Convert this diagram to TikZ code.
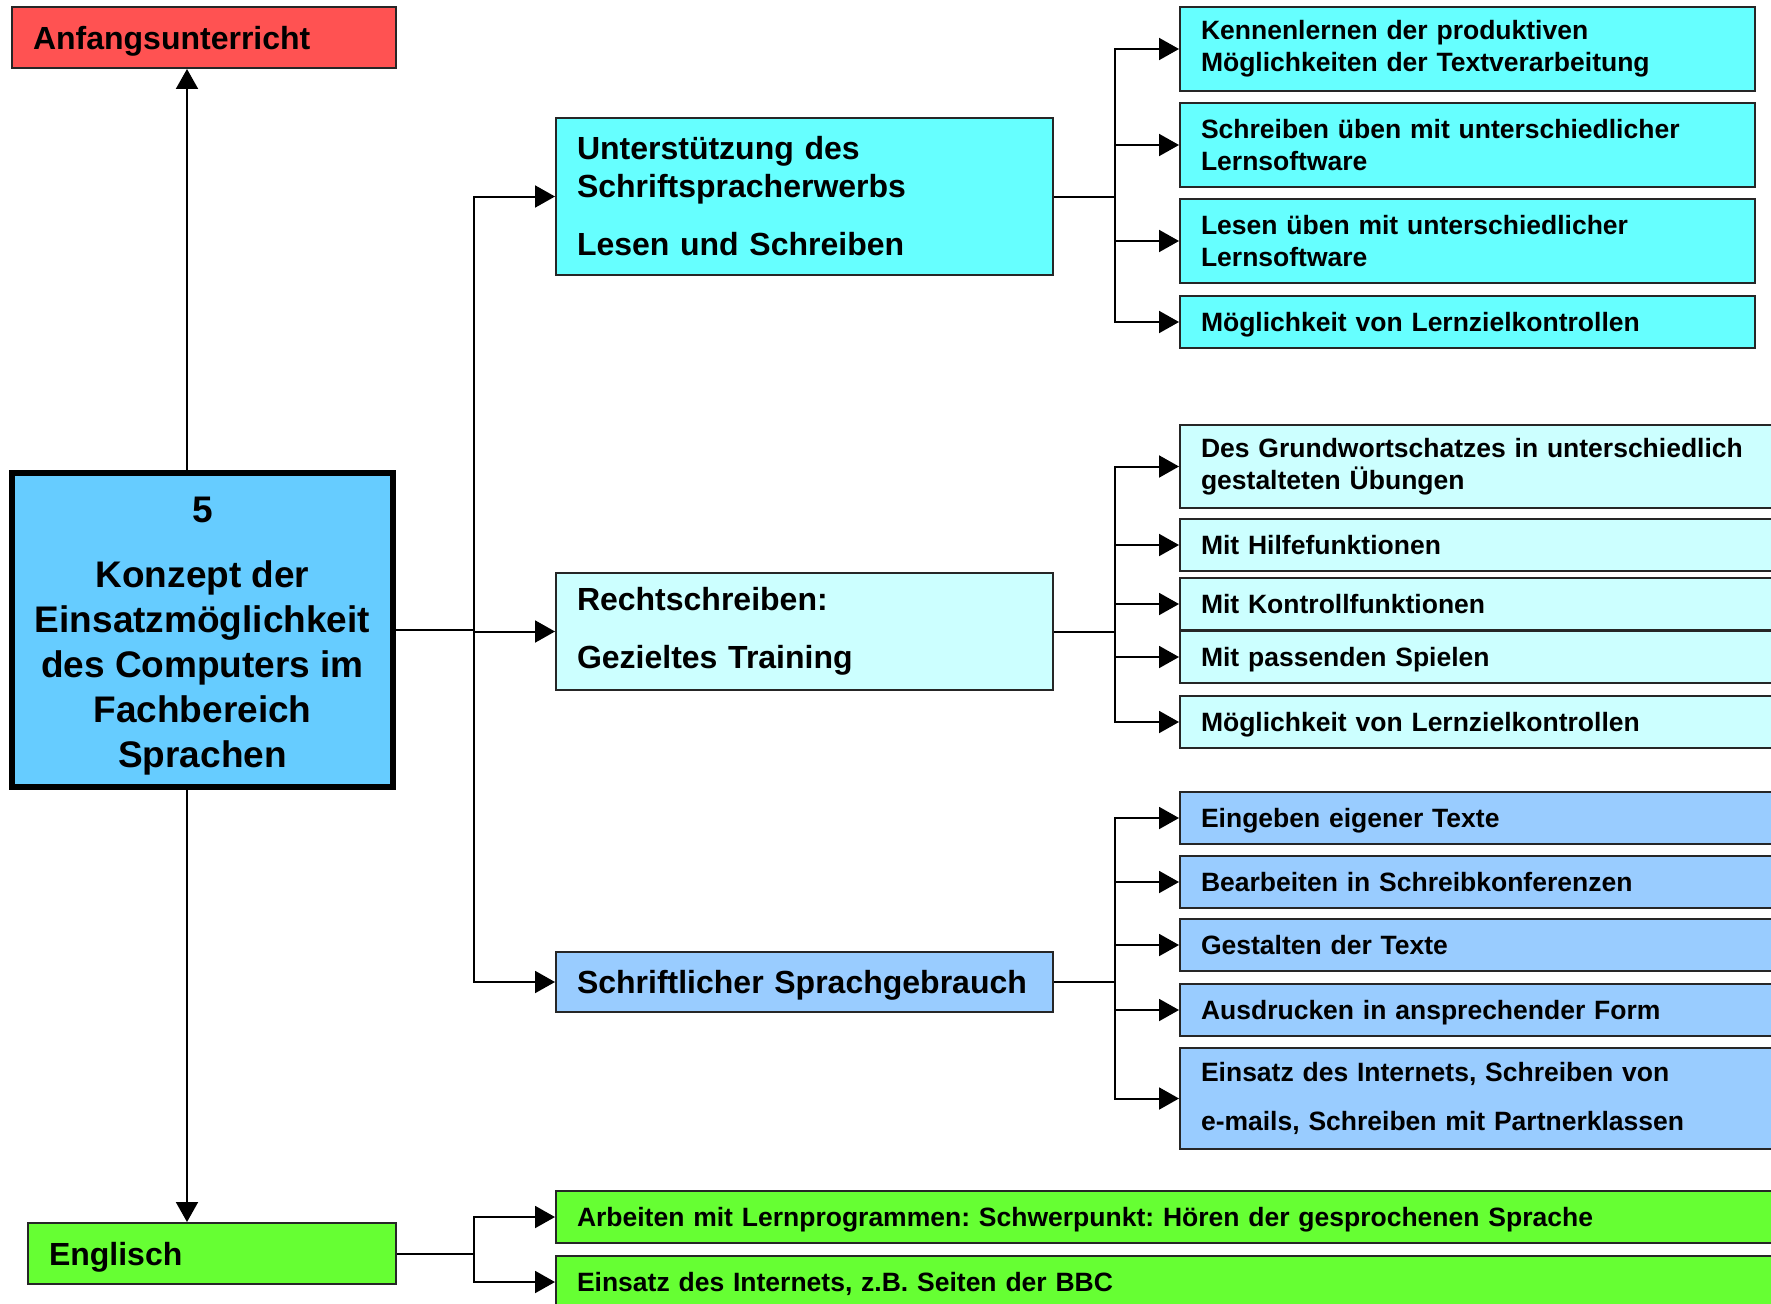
\documentclass[tikz,border=0pt]{standalone}
\usepackage{fontspec}
\setmainfont{Liberation Sans}
\usetikzlibrary{arrows.meta}
\frenchspacing

\definecolor{anfrot}{RGB}{255,82,82}
\definecolor{zentral}{RGB}{102,204,255}
\definecolor{tuerkis}{RGB}{102,255,255}
\definecolor{hellt}{RGB}{204,255,255}
\definecolor{hellblau}{RGB}{153,204,255}
\definecolor{gruen}{RGB}{102,255,51}

\newcommand{\fklein}{\fontsize{26.5}{31.6}\selectfont\bfseries}
\newcommand{\fgross}{\fontsize{32}{38}\selectfont\bfseries}
\newcommand{\fzentral}{\fontsize{37}{45}\selectfont\bfseries}

\begin{document}
\begin{tikzpicture}[x=1pt, y=-1pt]
		\tikzstyle{box}=[draw=black!85, line width=2pt, rectangle, anchor=north west, inner xsep=21pt, inner ysep=0pt, align=left]
		\tikzstyle{einz}=[text depth=0pt]
		\tikzstyle{pfeil}=[line width=2pt, -{Triangle[length=20pt,width=22pt]}]
		\useasboundingbox (0,0) rectangle (1771,1303);

		% linke Spalte
		\node[box, einz, fill=anfrot, minimum width=384pt, text width=342pt, minimum height=61pt, font=\fgross] (anf) at (11,6) {Anfangsunterricht};
		\node[draw=black, line width=6pt, fill=zentral, minimum width=381pt, minimum height=314pt, inner sep=0pt, align=center, font=\fzentral] (zentr) at (202.5,630)
			{\rule{0pt}{38pt}5\\[20pt]Konzept der\\Einsatzmöglichkeit\\des Computers im\\Fachbereich\\Sprachen};
		\node[box, einz, fill=gruen, minimum width=368pt, text width=326pt, minimum height=61pt, font=\fgross] (eng) at (27,1222) {Englisch};

		% mittlere Spalte
		\node[box, fill=tuerkis, minimum width=497pt, text width=455pt, minimum height=157pt, font=\fgross] (mid1) at (555,117)
			{Unterstützung des\\Schriftspracherwerbs\\[20pt]Lesen und Schreiben};
		\node[box, fill=hellt, minimum width=497pt, text width=455pt, minimum height=117pt, font=\fgross] (mid2) at (555,572)
			{Rechtschreiben:\\[20pt]Gezieltes Training};
		\node[box, einz, fill=hellblau, minimum width=497pt, text width=455pt, minimum height=60pt, font=\fgross] (mid3) at (555,951)
			{Schriftlicher Sprachgebrauch};

		% rechte Spalte, Lesen und Schreiben
		\tikzstyle{rb1}=[box, fill=tuerkis, minimum width=575pt, text width=533pt, font=\fklein]
		\node[rb1, minimum height=84pt] (k1) at (1179,6) {Kennenlernen der produktiven\\Möglichkeiten der Textverarbeitung};
		\node[rb1, minimum height=84pt] (k2) at (1179,102) {Schreiben üben mit unterschiedlicher\\Lernsoftware};
		\node[rb1, minimum height=84pt] (k3) at (1179,198) {Lesen üben mit unterschiedlicher\\Lernsoftware};
		\node[rb1, einz, minimum height=52pt] (k4) at (1179,295) {Möglichkeit von Lernzielkontrollen};

		% Rechtschreiben
		\tikzstyle{rb2}=[box, fill=hellt, minimum width=620pt, text width=578pt, font=\fklein]
		\node[rb2, minimum height=83pt] (r1) at (1179,424) {Des Grundwortschatzes in unterschiedlich\\gestalteten Übungen};
		\node[rb2, einz, minimum height=52pt] (r2) at (1179,518) {Mit Hilfefunktionen};
		\node[rb2, einz, minimum height=52pt] (r3) at (1179,577) {Mit Kontrollfunktionen};
		\node[rb2, einz, minimum height=52pt] (r4) at (1179,630) {Mit passenden Spielen};
		\node[rb2, einz, minimum height=52pt] (r5) at (1179,695) {Möglichkeit von Lernzielkontrollen};

		% Schriftlicher Sprachgebrauch
		\tikzstyle{rb3}=[box, fill=hellblau, minimum width=620pt, text width=578pt, font=\fklein]
		\node[rb3, einz, minimum height=52pt] (s1) at (1179,791) {Eingeben eigener Texte};
		\node[rb3, einz, minimum height=52pt] (s2) at (1179,855) {Bearbeiten in Schreibkonferenzen};
		\node[rb3, einz, minimum height=52pt] (s3) at (1179,918) {Gestalten der Texte};
		\node[rb3, einz, minimum height=52pt] (s4) at (1179,983) {Ausdrucken in ansprechender Form};
		\node[rb3, minimum height=101pt, font=\fontsize{26.5}{49}\selectfont\bfseries] (s5) at (1179,1047)
			{Einsatz des Internets, Schreiben von\\e-mails, Schreiben mit Partnerklassen};

		% Englisch
		\tikzstyle{rbg}=[box, einz, fill=gruen, minimum width=1240pt, text width=1198pt, minimum height=52pt, font=\fklein]
		\node[rbg] (g1) at (555,1190) {Arbeiten mit Lernprogrammen: Schwerpunkt: Hören der gesprochenen Sprache};
		\node[rbg] (g2) at (555,1255) {Einsatz des Internets, z.B. Seiten der BBC};

		% Verbindungen
		\coordinate (achse) at (187,0);
		\coordinate (stamm) at (474,0);
		\coordinate (ast) at (1115,0);
		\draw[pfeil] (achse |- zentr.north) -- (achse |- anf.south);
		\draw[pfeil] (achse |- zentr.south) -- (achse |- eng.north);
		\foreach \m in {mid1,mid2,mid3}
			\draw[pfeil] (zentr.east) -- (stamm |- zentr.east) |- (\m.west);
		\foreach \k in {k1,k2,k3,k4}
			\draw[pfeil] (mid1.east) -- (ast |- mid1.east) |- (\k.west);
		\foreach \r in {r1,r2,r3,r4,r5}
			\draw[pfeil] (mid2.east) -- (ast |- mid2.east) |- (\r.west);
		\foreach \s in {s1,s2,s3,s4,s5}
			\draw[pfeil] (mid3.east) -- (ast |- mid3.east) |- (\s.west);
		\foreach \g in {g1,g2}
			\draw[pfeil] (eng.east) -- (stamm |- eng.east) |- (\g.west);
\end{tikzpicture}
\end{document}
